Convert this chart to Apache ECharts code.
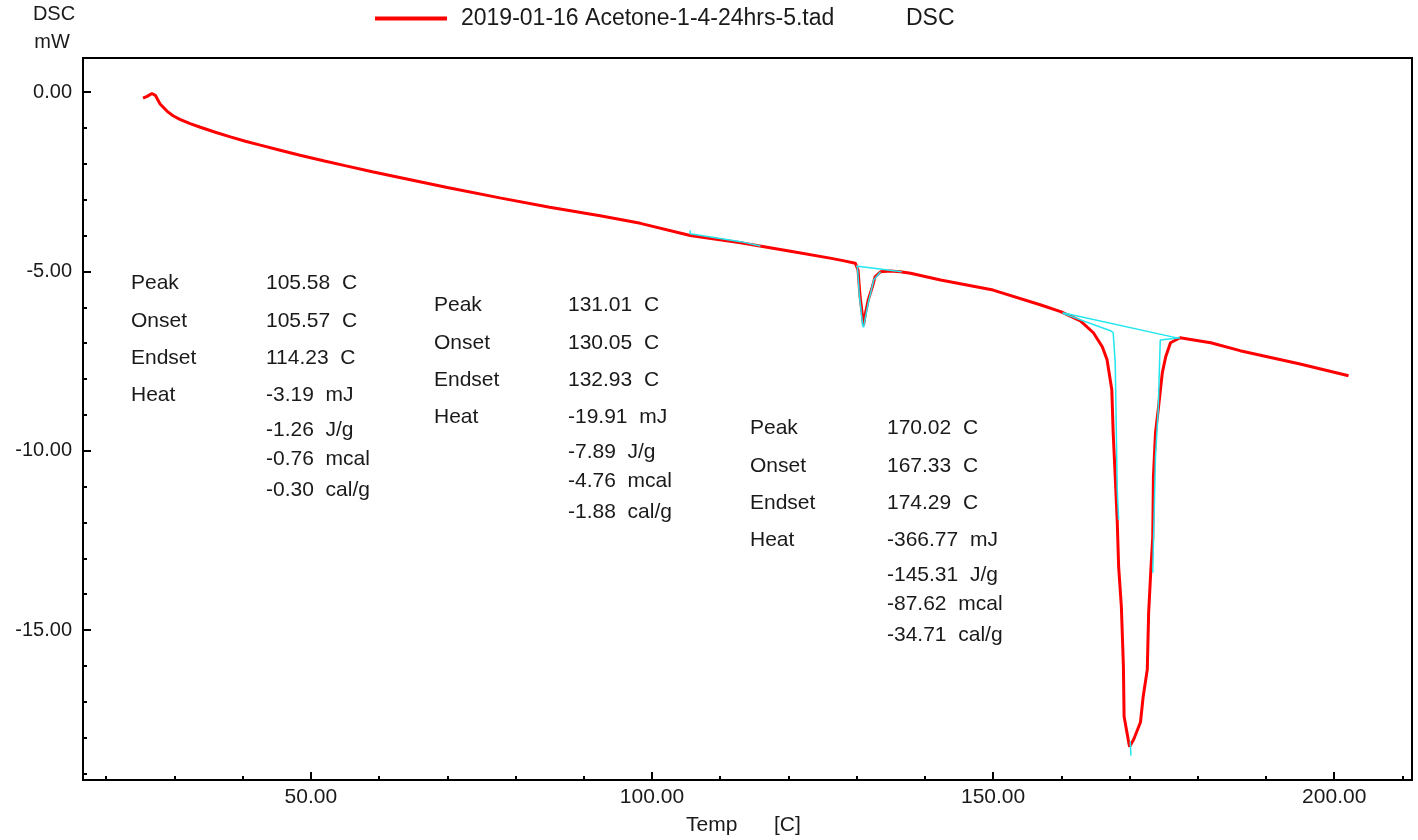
<!DOCTYPE html>
<html>
<head>
<meta charset="utf-8">
<title>DSC</title>
<script src="https://cdn.jsdelivr.net/npm/echarts@6/dist/echarts.min.js"></script>
<style>
  html, body { margin: 0; padding: 0; background: #fff; }
  #main { width: 1418px; height: 840px; }
</style>
</head>
<body>
<div id="main"></div>
<script>
const seriesName = '2019-01-16 Acetone-1-4-24hrs-5.tad';

// DSC curve [temp C, mW]
const dscCurve = [
  [25.4, -0.17], [26.0, -0.12], [26.7, -0.04], [27.2, -0.09], [27.9, -0.33], [28.9, -0.53],
  [29.8, -0.66], [30.8, -0.76], [32.3, -0.88], [33.8, -0.98], [36.0, -1.12], [38.2, -1.25],
  [40.4, -1.37], [42.6, -1.48], [45.5, -1.62], [48.4, -1.76], [52, -1.92], [55, -2.05],
  [59, -2.22], [63, -2.38], [70, -2.66], [77.7, -2.95], [85, -3.21], [92.4, -3.45],
  [98.3, -3.66], [105.6, -4.0], [113.0, -4.2], [120.3, -4.44],
  [126.1, -4.63], [128.0, -4.70], [129.8, -4.77], [130.2, -4.96], [130.5, -5.70], [130.8, -6.16],
  [131.0, -6.5], [131.3, -6.16], [131.7, -5.79], [132.3, -5.43], [132.7, -5.15], [133.5, -5.01],
  [134.9, -4.99], [136.4, -5.01], [137.9, -5.05], [142.3, -5.24], [150, -5.52], [156.9, -5.93],
  [159.9, -6.12], [162.8, -6.38], [164.7, -6.71], [166.0, -7.10], [166.7, -7.46], [167.4, -8.30],
  [167.6, -9.50], [167.9, -10.72], [168.2, -12.0], [168.4, -13.23], [168.8, -14.35], [169.1, -16.02],
  [169.2, -17.41], [169.8, -18.05], [170.0, -18.25], [170.6, -18.05], [171.6, -17.57], [172.0, -16.85],
  [172.6, -16.10], [172.8, -14.51], [173.1, -13.40], [173.4, -12.40], [173.5, -10.72], [173.8, -9.50],
  [174.2, -8.86], [174.8, -7.83], [175.3, -7.38], [176.0, -6.99], [177.4, -6.85], [179.4, -6.91],
  [181.9, -6.99], [186.2, -7.21], [195.0, -7.58], [202.1, -7.91]
];

// cyan baseline / tangent lines of the analysis
const cyanPeak1 = [[105.6, -3.85], [105.6, -3.95], [113.0, -4.17], [115.9, -4.29]];
const cyanPeak2Base = [[129.9, -4.85], [136.6, -5.01]];
const cyanPeak2Left = [[130.1, -4.85], [130.4, -5.68], [130.9, -6.54]];
const cyanPeak2Right = [[131.0, -6.57], [131.7, -5.88], [132.5, -5.24], [133.5, -5.01]];
const cyanPeak3Base = [[160.2, -6.15], [177.1, -6.86]];
const cyanPeak3Onset = [[160.2, -6.17], [167.3, -6.66], [167.6, -6.71], [167.9, -7.55], [168.2, -11.09], [168.4, -11.92]];
const cyanPeak3Endset = [[177.4, -6.85], [174.5, -6.91], [174.4, -7.55], [174.2, -8.86], [173.8, -10.17], [173.4, -13.40]];
const cyanPeak3Tip = [[170.1, -18.1], [170.2, -18.5]];

// axis ticks
const xMajor = [50, 100, 150, 200];
const xMinor = [20, 30, 40, 60, 70, 80, 90, 110, 120, 130, 140, 160, 170, 180, 190, 210];
const yMajor = [-15, -10, -5, 0];
const yMinor = [-19, -18, -17, -16, -14, -13, -12, -11, -9, -8, -7, -6, -4, -3, -2, -1];

// peak analysis results
const rowNames = ['Peak', 'Onset', 'Endset', 'Heat'];
const peak1Values = ['105.58  C', '105.57  C', '114.23  C', '-3.19  mJ', '-1.26  J/g', '-0.76  mcal', '-0.30  cal/g'];
const peak2Values = ['131.01  C', '130.05  C', '132.93  C', '-19.91  mJ', '-7.89  J/g', '-4.76  mcal', '-1.88  cal/g'];
const peak3Values = ['170.02  C', '167.33  C', '174.29  C', '-366.77  mJ', '-145.31  J/g', '-87.62  mcal', '-34.71  cal/g'];

const FONT = '"Liberation Sans", Arial, sans-serif';
const TXT = '#1a1a1a';
const FS = 21;

const chart = echarts.init(document.getElementById('main'), null, { renderer: 'canvas' });

// text blocks (layout only)
const rowOffsets = [0, 38, 75, 112, 147, 176, 207];
const blocks = [
  { x: 131, vx: 266, y: 283, values: peak1Values },
  { x: 434, vx: 568, y: 305, values: peak2Values },
  { x: 750, vx: 887, y: 428, values: peak3Values }
];
const graphics = [];
blocks.forEach(b => {
  b.values.forEach((v, i) => {
    if (rowNames[i]) {
      graphics.push({ type: 'text', x: b.x, y: b.y + rowOffsets[i],
        style: { text: rowNames[i], fill: TXT, font: FS + 'px ' + FONT, verticalAlign: 'middle' } });
    }
    graphics.push({ type: 'text', x: b.vx, y: b.y + rowOffsets[i],
      style: { text: v, fill: TXT, font: FS + 'px ' + FONT, verticalAlign: 'middle', whiteSpace: 'pre' } });
  });
});
graphics.push(
  { type: 'text', x: 54, y: 14, style: { text: 'DSC', fill: TXT, font: '20px ' + FONT, align: 'center', verticalAlign: 'middle' } },
  { type: 'text', x: 52, y: 42, style: { text: 'mW', fill: TXT, font: '20px ' + FONT, align: 'center', verticalAlign: 'middle' } },
  { type: 'text', x: 686, y: 825, style: { text: 'Temp', fill: TXT, font: FS + 'px ' + FONT, verticalAlign: 'middle' } },
  { type: 'text', x: 774, y: 825, style: { text: '[C]', fill: TXT, font: FS + 'px ' + FONT, verticalAlign: 'middle' } }
);

const cyanStyle = { color: '#22e6ee', width: 1.5 };
function cyanLine(data) {
  return {
    type: 'line', data: data, showSymbol: false, symbol: 'none', silent: true,
    lineStyle: cyanStyle, z: 3, animation: false
  };
}

const baseX = { type: 'value', min: 16.6, max: 211.4, gridIndex: 0, position: 'bottom',
  splitLine: { show: false }, axisLine: { show: false, onZero: false } };
const baseY = { type: 'value', min: -19.18, max: 0.95, gridIndex: 0, position: 'left',
  splitLine: { show: false }, axisLine: { show: false, onZero: false } };

const option = {
  animation: false,
  backgroundColor: '#fff',
  grid: { left: 83, right: 6, top: 58, bottom: 60, show: true, borderColor: '#000', borderWidth: 2 },
  legend: {
    data: [seriesName],
    left: 370, top: 2,
    icon: 'rect', itemWidth: 72, itemHeight: 4,
    formatter: name => '{a|' + name + '}{b|DSC}',
    textStyle: {
      rich: {
        a: { fontFamily: FONT, fontSize: 23, color: TXT, width: 445, padding: [0, 0, 0, 9] },
        b: { fontFamily: FONT, fontSize: 23, color: TXT }
      }
    }
  },
  xAxis: [
    Object.assign({}, baseX, {
      axisTick: { inside: true, length: 8, customValues: xMajor, lineStyle: { color: '#000', width: 2 } },
      axisLabel: { customValues: xMajor, formatter: v => v.toFixed(2), margin: 7,
        fontFamily: FONT, fontSize: FS, color: TXT }
    }),
    Object.assign({}, baseX, {
      axisTick: { inside: true, length: 4, customValues: xMinor, lineStyle: { color: '#000', width: 2 } },
      axisLabel: { show: false }
    })
  ],
  yAxis: [
    Object.assign({}, baseY, {
      axisTick: { inside: true, length: 8, customValues: yMajor, lineStyle: { color: '#000', width: 2 } },
      axisLabel: { customValues: yMajor, formatter: v => v.toFixed(2), margin: 11,
        fontFamily: FONT, fontSize: 20, color: TXT }
    }),
    Object.assign({}, baseY, {
      axisTick: { inside: true, length: 4, customValues: yMinor, lineStyle: { color: '#000', width: 2 } },
      axisLabel: { show: false }
    })
  ],
  series: [
    {
      name: seriesName, type: 'line', data: dscCurve, showSymbol: false, symbol: 'none',
      lineStyle: { color: '#ff0000', width: 3 }, itemStyle: { color: '#ff0000' }, z: 2
    },
    cyanLine(cyanPeak1),
    cyanLine(cyanPeak2Base),
    cyanLine(cyanPeak2Left),
    cyanLine(cyanPeak2Right),
    cyanLine(cyanPeak3Base),
    cyanLine(cyanPeak3Onset),
    cyanLine(cyanPeak3Endset),
    cyanLine(cyanPeak3Tip)
  ],
  graphic: graphics
};

chart.setOption(option);
</script>
</body>
</html>
